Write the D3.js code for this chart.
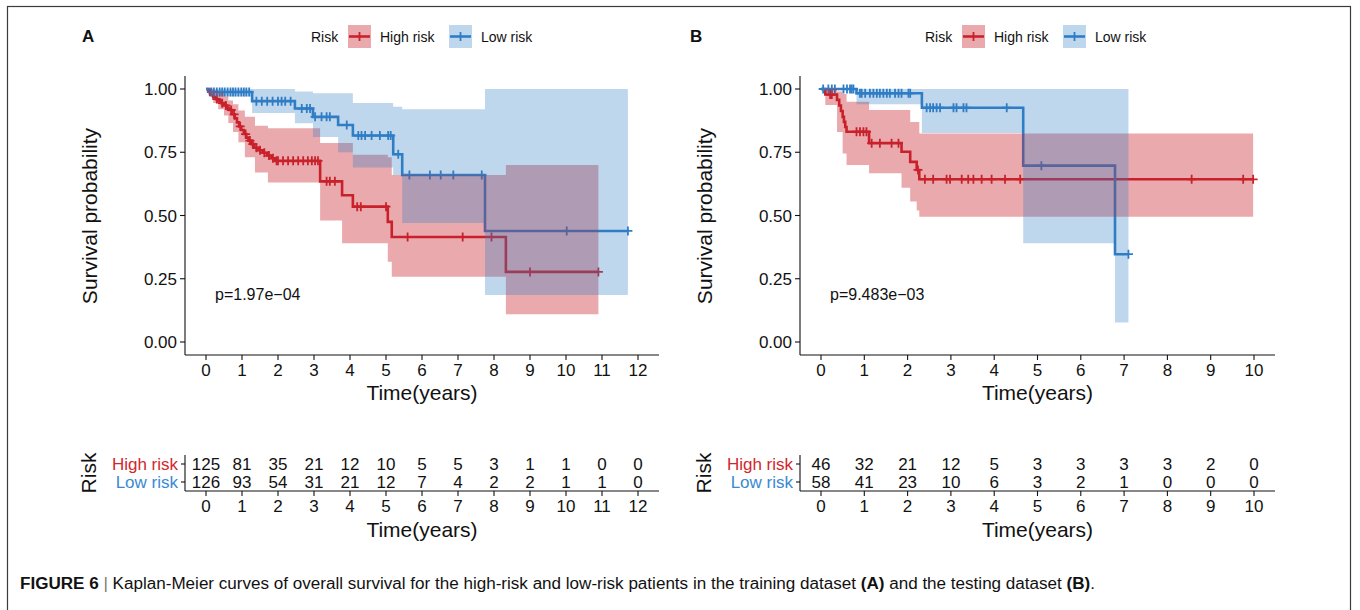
<!DOCTYPE html>
<html>
<head>
<meta charset="utf-8">
<script src="https://cdn.jsdelivr.net/npm/d3@7"></script>
<style>
  body { margin: 0; background: #fff; }
  svg { display: block; }
  text { font-family: "Liberation Sans", Arial, Helvetica, sans-serif; fill: #111; }
</style>
</head>
<body>
<svg id="chart" width="1360" height="610"></svg>
<script>
// ---------- Training dataset (A) ----------
const aTicks = [0, 1, 2, 3, 4, 5, 6, 7, 8, 9, 10, 11, 12];
const aHighAtRisk = [125, 81, 35, 21, 12, 10, 5, 5, 3, 1, 1, 0, 0];
const aLowAtRisk  = [126, 93, 54, 31, 21, 12, 7, 4, 2, 2, 1, 1, 0];

// high risk: KM steps (time, survival)
const aHighT = [0, 0.06, 0.12, 0.2, 0.28, 0.35, 0.42, 0.5, 0.58, 0.65, 0.72, 0.8, 0.86, 0.92, 0.98, 1.05, 1.12, 1.18, 1.26, 1.34, 1.44, 1.58, 1.7, 1.82, 1.92, 3.17, 3.78, 4.08, 5.05, 5.16, 8.33];
const aHighS = [1, 0.992, 0.976, 0.968, 0.96, 0.952, 0.944, 0.935, 0.926, 0.917, 0.9, 0.884, 0.868, 0.852, 0.838, 0.822, 0.808, 0.796, 0.782, 0.768, 0.758, 0.748, 0.737, 0.726, 0.716, 0.635, 0.58, 0.535, 0.475, 0.415, 0.277];
const aHighEnd = 10.9;
const aHighBandT  = [0, 0.06, 0.2, 0.34, 0.5, 0.62, 0.75, 0.9, 1.08, 1.36, 1.72, 3.17, 3.78, 4.08, 5.05, 5.16, 8.33];
const aHighBandLo = [1, 0.975, 0.945, 0.92, 0.895, 0.866, 0.83, 0.79, 0.73, 0.67, 0.63, 0.48, 0.39, 0.39, 0.317, 0.258, 0.11];
const aHighBandUp = [1, 1, 0.995, 0.985, 0.97, 0.955, 0.94, 0.915, 0.89, 0.855, 0.845, 0.787, 0.787, 0.74, 0.73, 0.66, 0.70];
const aHighCensor = [0.3, 0.45, 0.55, 0.7, 0.78, 0.95, 1.1, 1.22, 1.3, 1.4, 1.5, 1.62, 1.75, 1.86, 1.96, 2.0, 2.14, 2.28, 2.42, 2.56, 2.7, 2.83, 2.94, 3.03, 3.11, 3.35, 3.44, 3.58, 4.2, 4.3, 5.0, 5.6, 7.13, 7.93, 9.0, 10.9];

// low risk
const aLowT = [0, 0.1, 1.28, 2.47, 2.97, 3.67, 4.08, 5.2, 5.45, 7.75];
const aLowS = [1, 0.988, 0.952, 0.923, 0.89, 0.858, 0.816, 0.742, 0.66, 0.439];
const aLowEnd = 11.72;
const aLowBandT  = [0, 0.1, 1.28, 2.47, 2.97, 3.67, 4.08, 5.2, 5.45, 7.75];
const aLowBandLo = [1, 0.97, 0.905, 0.865, 0.81, 0.75, 0.69, 0.66, 0.47, 0.186];
const aLowBandUp = [1, 1, 1, 0.99, 0.983, 0.983, 0.945, 0.93, 0.92, 1];
const aLowCensor = [0.15, 0.22, 0.3, 0.38, 0.45, 0.52, 0.6, 0.68, 0.75, 0.82, 0.9, 0.98, 1.05, 1.12, 1.2, 1.4, 1.55, 1.7, 1.85, 2.0, 2.1, 2.2, 2.35, 2.66, 2.8, 2.89, 3.03, 3.21, 3.35, 3.44, 3.91, 4.23, 4.32, 4.42, 4.6, 4.83, 5.06, 5.13, 5.34, 5.65, 6.22, 6.52, 6.87, 7.66, 10.02, 11.72];
const aPValue = "p=1.97e\u221204";

// ---------- Testing dataset (B) ----------
const bTicks = [0, 1, 2, 3, 4, 5, 6, 7, 8, 9, 10];
const bHighAtRisk = [46, 32, 21, 12, 5, 3, 3, 3, 3, 2, 0];
const bLowAtRisk  = [58, 41, 23, 10, 6, 3, 2, 1, 0, 0, 0];

const bHighT = [0, 0.1, 0.37, 0.42, 0.46, 0.5, 0.53, 0.56, 0.59, 1.11, 1.86, 2.06, 2.21, 2.27];
const bHighS = [1, 0.978, 0.957, 0.935, 0.913, 0.89, 0.87, 0.85, 0.831, 0.786, 0.752, 0.712, 0.68, 0.643];
const bHighEnd = 9.98;
const bHighBandT  = [0, 0.1, 0.37, 0.5, 0.59, 1.11, 1.86, 2.06, 2.21, 2.27];
const bHighBandLo = [1, 0.937, 0.83, 0.745, 0.70, 0.667, 0.61, 0.555, 0.52, 0.495];
const bHighBandUp = [1, 1, 0.99, 0.98, 0.95, 0.917, 0.917, 0.87, 0.87, 0.824];
const bHighCensor = [0.21, 0.25, 0.82, 0.9, 0.98, 1.05, 1.17, 1.36, 1.63, 1.79, 2.24, 2.4, 2.59, 2.9, 2.98, 3.25, 3.4, 3.52, 3.71, 3.94, 4.25, 4.6, 8.56, 9.75, 9.98];

const bLowT = [0, 0.82, 2.33, 4.67, 6.79];
const bLowS = [1, 0.983, 0.926, 0.697, 0.347];
const bLowEnd = 7.1;
const bLowBandT  = [0, 0.82, 2.33, 4.67, 6.79];
const bLowBandLo = [1, 0.94, 0.826, 0.39, 0.077];
const bLowBandUp = [1, 1, 1, 1, 1];
const bLowCensor = [0.05, 0.17, 0.25, 0.32, 0.52, 0.6, 0.67, 0.71, 0.75, 0.9, 0.94, 1.02, 1.13, 1.21, 1.29, 1.36, 1.44, 1.52, 1.59, 1.71, 1.79, 1.86, 2.02, 2.06, 2.44, 2.52, 2.59, 2.67, 2.75, 3.06, 3.13, 3.29, 3.36, 4.29, 5.09, 7.1];
const bPValue = "p=9.483e\u221203";

const riskGroups = ["High risk", "Low risk"];
const yTicks = [0, 0.25, 0.5, 0.75, 1];

// ---------- styling ----------
const RED = "#C9222B", BLUE = "#2F7DC6";
const RED_TXT = "#D2262D", BLUE_TXT = "#3A89D2";
const RED_ALPHA = 0.39, BLUE_ALPHA = 0.31;
const LINE_W = 2.6;

const svg = d3.select("#chart");

// outer frame
svg.append("rect")
  .attr("x", 7.5).attr("y", 6.5).attr("width", 1343).attr("height", 640)
  .attr("fill", "none").attr("stroke", "#3c3c3c").attr("stroke-width", 1.2);

function stepValue(T, S, t) {
  let v = S[0];
  for (let i = 0; i < T.length; i++) if (T[i] <= t) v = S[i];
  return v;
}

function drawPanel(p) {
  const g = svg.append("g");
  const x = d3.scaleLinear().domain([0, p.ticks[p.ticks.length - 1]]).range([p.x0, p.x1]);
  const y = d3.scaleLinear().domain([0, 1]).range([342, 89]);
  const pad = p.x0 - p.axisX;

  // panel letter
  g.append("text").attr("x", p.letterX).attr("y", 42)
    .attr("font-size", 17).attr("font-weight", "bold").text(p.letter);

  // legend
  const lg = g.append("g").attr("transform", `translate(${p.legendX},0)`);
  lg.append("text").attr("x", 0).attr("y", 42).attr("font-size", 14).text("Risk");
  const keys = [
    { label: riskGroups[0], col: RED, a: RED_ALPHA, kx: 37, tx: 69 },
    { label: riskGroups[1], col: BLUE, a: BLUE_ALPHA, kx: 138, tx: 170 }
  ];
  keys.forEach(k => {
    lg.append("rect").attr("x", k.kx).attr("y", 25).attr("width", 23).attr("height", 23)
      .attr("fill", k.col).attr("fill-opacity", k.a);
    lg.append("line").attr("x1", k.kx + 1).attr("x2", k.kx + 22).attr("y1", 36.5).attr("y2", 36.5)
      .attr("stroke", k.col).attr("stroke-width", LINE_W);
    lg.append("line").attr("x1", k.kx + 11.5).attr("x2", k.kx + 11.5).attr("y1", 32).attr("y2", 41)
      .attr("stroke", k.col).attr("stroke-width", 1.8);
    lg.append("text").attr("x", k.tx).attr("y", 42).attr("font-size", 14).text(k.label);
  });

  const series = [
    { T: p.hT, S: p.hS, end: p.hEnd, BT: p.hBT, LO: p.hLo, UP: p.hUp, C: p.hC, col: RED, a: RED_ALPHA },
    { T: p.lT, S: p.lS, end: p.lEnd, BT: p.lBT, LO: p.lLo, UP: p.lUp, C: p.lC, col: BLUE, a: BLUE_ALPHA }
  ];

  const line = d3.line().curve(d3.curveStepAfter).x(d => x(d[0])).y(d => y(d[1]));
  const area = d3.area().curve(d3.curveStepAfter)
    .x(d => x(d.t)).y0(d => y(d.lo)).y1(d => y(d.up));

  // survival curves and censor marks
  series.forEach(s => {
    const pts = s.T.map((t, i) => [t, s.S[i]]).concat([[s.end, s.S[s.S.length - 1]]]);
    g.append("path").attr("d", line(pts)).attr("fill", "none")
      .attr("stroke", s.col).attr("stroke-width", LINE_W).attr("stroke-linejoin", "miter");
    g.append("g").selectAll("path").data(s.C).join("path")
      .attr("transform", t => `translate(${x(t)},${y(stepValue(s.T, s.S, t))})`)
      .attr("d", "M-4.5,0H4.5M0,-4.5V4.5")
      .attr("stroke", s.col).attr("stroke-width", 1.8).attr("fill", "none");
  });

  // confidence bands (drawn over the curves)
  series.forEach(s => {
    const n = s.BT.length - 1;
    const bp = s.BT.map((t, i) => ({ t, lo: s.LO[i], up: s.UP[i] }))
      .concat([{ t: s.end, lo: s.LO[n], up: s.UP[n] }]);
    g.append("path").attr("d", area(bp)).attr("fill", s.col).attr("fill-opacity", s.a);
  });

  // axes of the survival plot
  const axisCol = "#111";
  g.append("line").attr("x1", p.axisX).attr("x2", p.axisX).attr("y1", 76).attr("y2", 355)
    .attr("stroke", axisCol).attr("stroke-width", 1.1);
  g.append("line").attr("x1", p.axisX).attr("x2", p.x1 + pad).attr("y1", 355).attr("y2", 355)
    .attr("stroke", axisCol).attr("stroke-width", 1.1);

  const yt = g.append("g").selectAll("g").data(yTicks).join("g")
    .attr("transform", d => `translate(${p.axisX},${y(d)})`);
  yt.append("line").attr("x1", -5).attr("x2", 0).attr("stroke", axisCol).attr("stroke-width", 1.1);
  yt.append("text").attr("x", -8).attr("dy", "0.36em").attr("text-anchor", "end")
    .attr("font-size", 17).text(d => d3.format(".2f")(d));

  const xt = g.append("g").selectAll("g").data(p.ticks).join("g")
    .attr("transform", d => `translate(${x(d)},355)`);
  xt.append("line").attr("y1", 0).attr("y2", 5).attr("stroke", axisCol).attr("stroke-width", 1.1);
  xt.append("text").attr("y", 21).attr("text-anchor", "middle").attr("font-size", 17).text(d => d);

  g.append("text").attr("x", (p.axisX + p.x1 + pad) / 2).attr("y", 400).attr("text-anchor", "middle")
    .attr("font-size", 21).text("Time(years)");
  g.append("text").attr("transform", `translate(${p.yTitleX},216) rotate(-90)`)
    .attr("text-anchor", "middle").attr("font-size", 21).text("Survival probability");

  g.append("text").attr("x", p.pX).attr("y", 300).attr("font-size", 16).text(p.pText);

  // ---------- number-at-risk table ----------
  const ry = d3.scalePoint().domain(riskGroups).range([464, 482]);
  g.append("line").attr("x1", p.axisX).attr("x2", p.axisX).attr("y1", 455).attr("y2", 491)
    .attr("stroke", axisCol).attr("stroke-width", 1.1);
  g.append("line").attr("x1", p.axisX).attr("x2", p.x1 + pad).attr("y1", 491).attr("y2", 491)
    .attr("stroke", axisCol).attr("stroke-width", 1.1);
  riskGroups.forEach((grp, gi) => {
    g.append("line").attr("x1", p.axisX - 4).attr("x2", p.axisX).attr("y1", ry(grp)).attr("y2", ry(grp))
      .attr("stroke", axisCol).attr("stroke-width", 1.1);
    g.append("text").attr("x", p.axisX - 7).attr("y", ry(grp)).attr("dy", "0.36em")
      .attr("text-anchor", "end").attr("font-size", 17)
      .style("fill", gi === 0 ? RED_TXT : BLUE_TXT).text(grp);
    const vals = gi === 0 ? p.highRisk : p.lowRisk;
    g.append("g").selectAll("text").data(vals).join("text")
      .attr("x", (d, i) => x(p.ticks[i])).attr("y", ry(grp)).attr("dy", "0.36em")
      .attr("text-anchor", "middle").attr("font-size", 17).text(d => d);
  });
  const xt2 = g.append("g").selectAll("g").data(p.ticks).join("g")
    .attr("transform", d => `translate(${x(d)},491)`);
  xt2.append("line").attr("y1", 0).attr("y2", 5).attr("stroke", axisCol).attr("stroke-width", 1.1);
  xt2.append("text").attr("y", 21).attr("text-anchor", "middle").attr("font-size", 17).text(d => d);
  g.append("text").attr("x", (p.axisX + p.x1 + pad) / 2).attr("y", 537).attr("text-anchor", "middle")
    .attr("font-size", 21).text("Time(years)");
  g.append("text").attr("transform", `translate(${p.riskTitleX},473) rotate(-90)`)
    .attr("text-anchor", "middle").attr("font-size", 21).text("Risk");
}

drawPanel({
  letter: "A", letterX: 82, legendX: 311,
  axisX: 185, x0: 206, x1: 638, yTitleX: 97, riskTitleX: 96, pX: 215, pText: aPValue,
  ticks: aTicks, highRisk: aHighAtRisk, lowRisk: aLowAtRisk,
  hT: aHighT, hS: aHighS, hEnd: aHighEnd, hBT: aHighBandT, hLo: aHighBandLo, hUp: aHighBandUp, hC: aHighCensor,
  lT: aLowT, lS: aLowS, lEnd: aLowEnd, lBT: aLowBandT, lLo: aLowBandLo, lUp: aLowBandUp, lC: aLowCensor
});

drawPanel({
  letter: "B", letterX: 690, legendX: 925,
  axisX: 800, x0: 821, x1: 1254, yTitleX: 712, riskTitleX: 711, pX: 830, pText: bPValue,
  ticks: bTicks, highRisk: bHighAtRisk, lowRisk: bLowAtRisk,
  hT: bHighT, hS: bHighS, hEnd: bHighEnd, hBT: bHighBandT, hLo: bHighBandLo, hUp: bHighBandUp, hC: bHighCensor,
  lT: bLowT, lS: bLowS, lEnd: bLowEnd, lBT: bLowBandT, lLo: bLowBandLo, lUp: bLowBandUp, lC: bLowCensor
});

// figure caption
const cap = svg.append("text").attr("x", 20).attr("y", 589).attr("font-size", 16)
  .attr("textLength", 1075).attr("lengthAdjust", "spacingAndGlyphs");
cap.append("tspan").attr("font-weight", "bold").text("FIGURE 6");
cap.append("tspan").style("fill", "#777").text(" | ");
cap.append("tspan").text("Kaplan-Meier curves of overall survival for the high-risk and low-risk patients in the training dataset ");
cap.append("tspan").attr("font-weight", "bold").text("(A)");
cap.append("tspan").text(" and the testing dataset ");
cap.append("tspan").attr("font-weight", "bold").text("(B)");
cap.append("tspan").text(".");
</script>
</body>
</html>
